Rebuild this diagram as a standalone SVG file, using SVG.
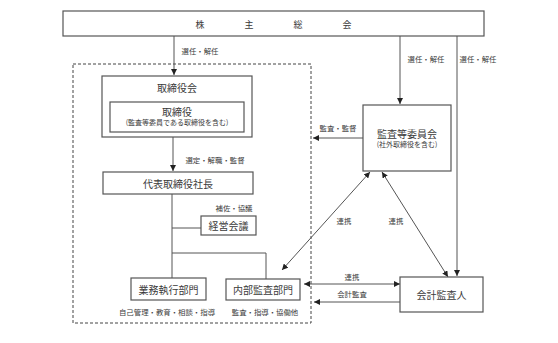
<svg xmlns="http://www.w3.org/2000/svg" width="558" height="343" viewBox="0 0 558 343">
<defs>
<marker id="ah" viewBox="0 0 10 10" refX="10" refY="5" markerWidth="6" markerHeight="6" orient="auto-start-reverse" markerUnits="userSpaceOnUse">
<path d="M0,0 L10,5 L0,10 z" fill="#222"/>
</marker>
<style>
.box{fill:#fff;stroke:#555;stroke-width:1.2}
.ln{fill:none;stroke:#555;stroke-width:1}
.t{font-family:"Noto Sans CJK JP","Noto Sans CJK SC",sans-serif;fill:#3a3a3a;text-anchor:middle;dominant-baseline:central}
.big{font-size:10px}
.sm{font-size:7px}
.lb{font-size:7.4px}
</style>
</defs>
<rect width="558" height="343" fill="#fff"/>
<rect x="73" y="64" width="238" height="259" fill="none" stroke="#444" stroke-width="1" stroke-dasharray="3,2"/>
<g id="connectors">
<line class="ln" x1="174" y1="36" x2="174" y2="75" marker-end="url(#ah)"/>
<line class="ln" x1="400" y1="36" x2="400" y2="104" marker-end="url(#ah)"/>
<line class="ln" x1="457" y1="36" x2="457" y2="276" marker-end="url(#ah)"/>
<line class="ln" x1="173" y1="137" x2="173" y2="171" marker-end="url(#ah)"/>
<line class="ln" x1="363" y1="138" x2="313" y2="138" marker-end="url(#ah)"/>
<polyline class="ln" points="172,194 172,278"/>
<line class="ln" x1="172" y1="228" x2="201" y2="228"/>
<polyline class="ln" points="172,253 266,253 266,279"/>
<line class="ln" x1="370" y1="172" x2="282" y2="270" marker-start="url(#ah)" marker-end="url(#ah)"/>
<line class="ln" x1="382" y1="172" x2="448" y2="277" marker-start="url(#ah)" marker-end="url(#ah)"/>
<line class="ln" x1="304" y1="284" x2="400" y2="284" marker-start="url(#ah)" marker-end="url(#ah)"/>
<line class="ln" x1="400" y1="302" x2="314" y2="302" marker-end="url(#ah)"/>
<text class="t lb" x="200" y="50">選任・解任</text>
<text class="t lb" x="426" y="58">選任・解任</text>
<text class="t lb" x="478" y="58">選任・解任</text>
<text class="t lb" x="215" y="159">選定・解職・監督</text>
<text class="t lb" x="338" y="127">監査・監督</text>
<text class="t lb" x="234" y="207">補佐・協議</text>
<text class="t lb" x="344" y="220">連携</text>
<text class="t lb" x="396" y="220">連携</text>
<text class="t lb" x="352" y="276">連携</text>
<text class="t lb" x="352" y="293">会計監査</text>
<text class="t lb" x="167" y="311">自己管理・教育・相談・指導</text>
<text class="t lb" x="265" y="311">監査・指導・協働他</text>
</g>
<g id="shareholders">
<rect class="box" x="63" y="11" width="421" height="25"/>
<text class="t" style="font-size:9px" x="200" y="24">株</text>
<text class="t" style="font-size:9px" x="249" y="24">主</text>
<text class="t" style="font-size:9px" x="298" y="24">総</text>
<text class="t" style="font-size:9px" x="347" y="24">会</text>
</g>
<g id="board">
<rect class="box" x="102" y="76" width="150" height="61"/>
<text class="t big" x="177" y="87">取締役会</text>
</g>
<g id="directors">
<rect class="box" x="110" y="102" width="134" height="30"/>
<text class="t big" x="177" y="111">取締役</text>
<text class="t sm" x="177" y="122">(監査等委員である取締役を含む)</text>
</g>
<g id="president">
<rect class="box" x="103" y="172" width="150" height="22"/>
<text class="t big" x="178" y="183">代表取締役社長</text>
</g>
<g id="management-meeting">
<rect class="box" x="201" y="216" width="55" height="19"/>
<text class="t big" x="228.5" y="225.5">経営会議</text>
</g>
<g id="business-dept">
<rect class="box" x="131" y="278" width="75" height="22"/>
<text class="t big" x="168.5" y="289">業務執行部門</text>
</g>
<g id="internal-audit">
<rect class="box" x="226" y="279" width="74" height="21"/>
<text class="t big" x="263" y="289.5">内部監査部門</text>
</g>
<g id="audit-committee">
<rect class="box" x="363" y="105" width="88" height="66"/>
<text class="t big" x="407" y="133">監査等委員会</text>
<text class="t sm" x="407" y="144">(社外取締役を含む)</text>
</g>
<g id="accounting-auditor">
<rect class="box" x="400" y="277" width="83" height="35"/>
<text class="t big" x="441.5" y="294.5">会計監査人</text>
</g>
</svg>
